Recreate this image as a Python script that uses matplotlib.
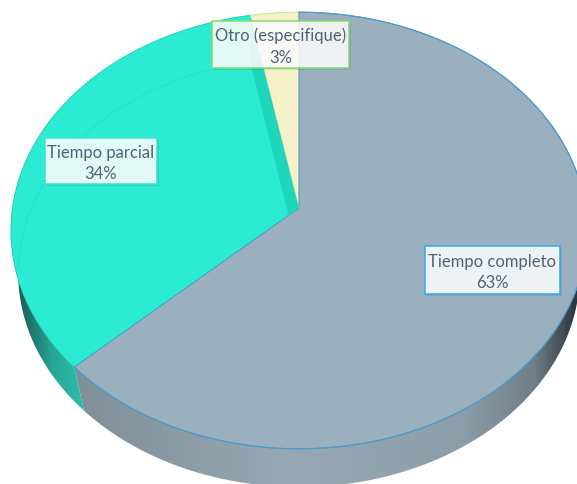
import numpy as np
import matplotlib
matplotlib.use("Agg")
import matplotlib.pyplot as plt
from matplotlib.colors import LinearSegmentedColormap
from matplotlib.patches import Polygon, Rectangle

plt.rcParams['font.family'] = ['Lato', 'DejaVu Sans']

# Data, clockwise from 12 o'clock
categories = ["Tiempo completo", "Tiempo parcial", "Otro (especifique)"]
percents = [63, 34, 3]

# Styles
top_colors = ["#9bb0be", "#2bebd3", "#f5f1c8"]
edge_colors = ["#4b9acb", "#22d6bf", "#c9e09a"]
border_colors = ["#2ea9f2", "#3fe3cf", "#84db6c"]
text_color = "#506375"

# Box of each label in pixels: left, top, right, bottom
label_boxes = [(425, 247, 560, 295), (45, 139, 157, 185), (212, 22, 349, 69)]

#-------------------------------------------------------------------------------

class Disc:
  """ Perspective view of a flat circle, center is the image of the circle's middle.
  """
  def __init__(self, cx, cy, a, b, q):
    self.cx, self.cy, self.a, self.b, self.q = cx, cy, a, b, q

  def rim(self, start, stop, n=300):
    # Angles in degrees, clockwise from the far side of the circle
    t = np.radians(np.linspace(start, stop, n))
    w = 1 + self.q * np.cos(t)
    return np.column_stack((self.cx + self.a * np.sin(t) / w,
                            self.cy - self.b * np.cos(t) / w))

top = Disc(299, 209, 286.5, 216, 0.103)
low = Disc(299, 258, 280, 212.8, 0.0748)

#-------------------------------------------------------------------------------

def side_wall(ax, start, stop, stops):
  # Rim band with a left to right shading, clipped to the slice's range
  outline = np.vstack((low.rim(start, stop), top.rim(stop, start)))
  patch = Polygon(outline, closed=True, fc="none", ec="none")
  ax.add_patch(patch)
  cmap = LinearSegmentedColormap.from_list("side", stops)
  shade = np.linspace(0, 1, 577).reshape(1, -1)
  im = ax.imshow(shade, cmap=cmap, extent=(0, 577, 485, 0), aspect="auto", vmin=0, vmax=1)
  im.set_clip_path(patch)


def main():
  fig = plt.figure(figsize=(5.77, 4.85), dpi=100)
  ax = fig.add_axes([0, 0, 1, 1])

  edges = np.concatenate(([0], np.cumsum(percents))) * 3.6

  side_wall(ax, edges[0], edges[1], [(0, "#6d7b85"), (0.14, "#808f9a"), (0.5, "#96a9b4"),
                                     (0.8, "#8c9eaa"), (0.93, "#6f7e88"), (1, "#2f363b")])
  side_wall(ax, edges[1], edges[2], [(0, "#123f3a"), (0.045, "#1c6f66"), (0.09, "#27a796"),
                                     (0.145, "#2bbfac"), (1, "#2bbfac")])

  # Slices, the grey one last as it covers the inner wall of the teal one
  for i in (1, 2, 0):
    pts = np.vstack(((top.cx, top.cy), top.rim(edges[i], edges[i + 1])))
    slice_patch = Polygon(pts, closed=True, fc=top_colors[i], ec=edge_colors[i], lw=0.7, zorder=3)
    ax.add_patch(slice_patch)
    if i == 1:
      # Far rim and inner wall of the lower face, seen through the teal slice
      back = low.rim(edges[1] + 40, edges[2])
      line, = ax.plot(back[:, 0], back[:, 1], color="#27e0c8", lw=0.7, zorder=4)
      line.set_clip_path(slice_patch)
      wall = Polygon(np.vstack(((top.cx, top.cy), top.rim(edges[2], edges[2], 1),
                                low.rim(edges[2], edges[2], 1), (low.cx, low.cy))),
                     closed=True, fc="#1dd6bc", ec="none", zorder=4)
      ax.add_patch(wall)
      wall.set_clip_path(slice_patch)
  ax.plot(*top.rim(edges[0], edges[1]).T, color=edge_colors[0], lw=0.8, zorder=5)

  # Labels
  for name, value, box, color in zip(categories, percents, label_boxes, border_colors):
    x0, y0, x1, y1 = box
    ax.add_patch(Rectangle((x0 + 2, y0 + 2), x1 - x0, y1 - y0, fc="#33484f", alpha=0.14, ec="none", zorder=6))
    ax.add_patch(Rectangle((x0, y0), x1 - x0, y1 - y0, fc="white", alpha=0.87, ec="none", zorder=7))
    ax.add_patch(Rectangle((x0, y0), x1 - x0, y1 - y0, fc="none", ec=color, lw=1.1, zorder=8))
    ax.text((x0 + x1) / 2, (y0 + y1) / 2 + 1.5, "{}\n{}%".format(name, value), color=text_color,
            fontsize=12, ha="center", va="center", linespacing=1.45, zorder=9)

  ax.set_xlim(0, 577)
  ax.set_ylim(485, 0)
  ax.axis("off")
  fig.savefig("out.png", dpi=100, facecolor="white")
  plt.close(fig)

#-------------------------------------------------------------------------------

if __name__ == "__main__":
  main()
